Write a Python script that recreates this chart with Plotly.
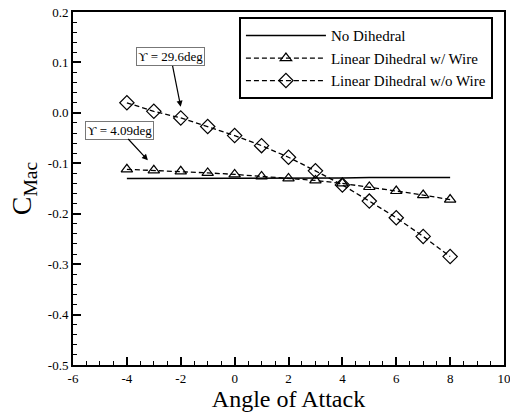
import plotly.graph_objects as go

aoa = [-4, -3, -2, -1, 0, 1, 2, 3, 4, 5, 6, 7, 8]
no_dihedral = [-0.130, -0.130, -0.130, -0.130, -0.129, -0.129, -0.129, -0.129, -0.129, -0.128, -0.128, -0.128, -0.128]
with_wire = [-0.112, -0.114, -0.116, -0.119, -0.122, -0.126, -0.130, -0.134, -0.140, -0.147, -0.155, -0.163, -0.172]
without_wire = [0.020, 0.003, -0.010, -0.027, -0.045, -0.065, -0.088, -0.115, -0.143, -0.175, -0.208, -0.245, -0.285]

x_ticks = [-6, -4, -2, 0, 2, 4, 6, 8, 10]
x_labels = ["-6", "-4", "-2", "0", "2", "4", "6", "8", "10"]
y_ticks = [0.2, 0.1, 0.0, -0.1, -0.2, -0.3, -0.4, -0.5]
y_labels = ["0.2", "0.1", "0.0", "-0.1", "-0.2", "-0.3", "-0.4", "-0.5"]

FONT = "Liberation Serif, Times New Roman, DejaVu Serif, serif"

fig = go.Figure()
fig.add_trace(go.Scatter(x=aoa, y=no_dihedral, mode="lines", name="No Dihedral",
                         line=dict(color="black", width=1.5)))
fig.add_trace(go.Scatter(x=aoa, y=with_wire, mode="lines+markers", name="Linear Dihedral w/ Wire",
                         line=dict(color="black", width=1.3, dash="5px,3px"),
                         marker=dict(symbol="triangle-up-open", size=10, color="black",
                                     line=dict(width=1.2))))
fig.add_trace(go.Scatter(x=aoa, y=without_wire, mode="lines+markers", name="Linear Dihedral w/o Wire",
                         line=dict(color="black", width=1.3, dash="5px,3px"),
                         marker=dict(symbol="diamond-open", size=11, color="black",
                                     line=dict(width=1.2))))

fig.add_annotation(x=-2.0, y=0.012, ax=-2.37, ay=0.111, axref="x", ayref="y",
                   xref="x", yref="y", text="ϒ = 29.6deg", showarrow=True,
                   arrowhead=2, arrowsize=1, arrowwidth=1.2, arrowcolor="black",
                   bordercolor="#777", borderwidth=1, borderpad=1,
                   font=dict(family=FONT, size=13, color="black"))
fig.add_annotation(x=-3.22, y=-0.094, ax=-4.26, ay=-0.034, axref="x", ayref="y",
                   xref="x", yref="y", text="ϒ = 4.09deg", showarrow=True,
                   arrowhead=2, arrowsize=1, arrowwidth=1.2, arrowcolor="black",
                   bordercolor="#777", borderwidth=1, borderpad=1,
                   font=dict(family=FONT, size=13, color="black"))

fig.update_layout(
    width=510, height=412,
    margin=dict(l=73, r=6, t=12, b=47),
    paper_bgcolor="white", plot_bgcolor="white",
    font=dict(family=FONT, color="black", size=13),
    showlegend=True,
    legend=dict(x=0.385, y=0.985, xanchor="left", yanchor="top",
                bgcolor="white", bordercolor="black", borderwidth=2,
                font=dict(family=FONT, size=15, color="black"),
                itemwidth=80, tracegroupgap=0),
    xaxis=dict(range=[-6, 10], tickvals=x_ticks, ticktext=x_labels,
               showgrid=False, zeroline=False, ticklabeloverflow="allow", automargin=False,
               showline=True, linecolor="black", linewidth=2, mirror=True,
               ticks="inside", ticklen=8, tickwidth=2, tickcolor="black",
               minor=dict(dtick=0.5, ticks="inside", ticklen=4, tickwidth=1, tickcolor="black"),
               tickfont=dict(family=FONT, size=13),
               title=dict(text="Angle of Attack", font=dict(family=FONT, size=24), standoff=0)),
    yaxis=dict(range=[-0.5, 0.2], tickvals=y_ticks, ticktext=y_labels,
               showgrid=False, zeroline=False, ticklabeloverflow="allow", automargin=False,
               showline=True, linecolor="black", linewidth=2, mirror=True,
               ticks="inside", ticklen=8, tickwidth=2, tickcolor="black",
               minor=dict(dtick=0.02, ticks="inside", ticklen=4, tickwidth=1, tickcolor="black"),
               tickfont=dict(family=FONT, size=13),
               title=dict(text="C<sub>Mac</sub>", font=dict(family=FONT, size=28), standoff=8)),
)

fig.write_html("out.html", config={"displayModeBar": False},
               post_script="document.body.style.margin='0';document.body.style.overflow='hidden';")
